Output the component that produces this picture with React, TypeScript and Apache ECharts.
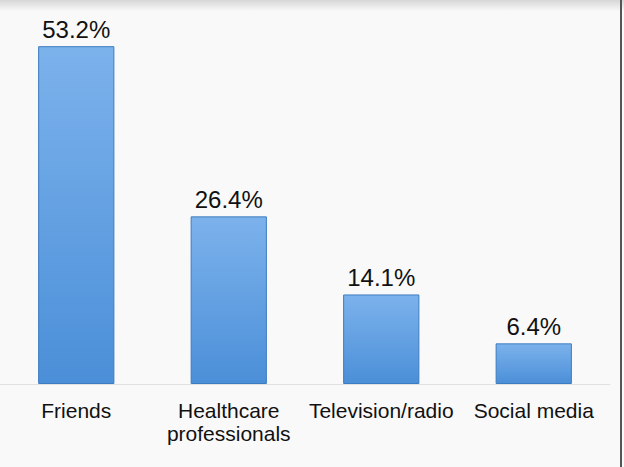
import React, { useEffect, useRef } from "react";
import * as echarts from "echarts";

const categories = ["Friends", "Healthcare\nprofessionals", "Television/radio", "Social media"];
const values = [53.2, 26.4, 14.1, 6.4];

export default function App() {
  const ref = useRef<HTMLDivElement>(null);
  useEffect(() => {
    if (!ref.current) return;
    const chart = echarts.init(ref.current, undefined, { renderer: "svg" });
    chart.setOption({
      animation: false,
      backgroundColor: "#f9f9f9",
      grid: { left: -1, right: 14, top: 3, bottom: 83, containLabel: false },
      xAxis: {
        type: "category",
        data: categories,
        axisLine: { show: true, lineStyle: { color: "#e2e2e2", width: 1 } },
        axisTick: { show: false },
        axisLabel: {
          color: "#111",
          fontFamily: "Liberation Sans, Arial, sans-serif",
          fontSize: 21,
          lineHeight: 23,
          margin: 15,
          interval: 0,
        },
      },
      yAxis: {
        type: "value",
        min: 0,
        max: 60,
        show: false,
        splitLine: { show: false },
      },
      series: [
        {
          type: "bar",
          data: values,
          barWidth: "50%",
          itemStyle: {
            color: new echarts.graphic.LinearGradient(0, 0, 0, 1, [
              { offset: 0, color: "#7cb2ec" },
              { offset: 1, color: "#4b8fd8" },
            ]),
            borderColor: "#3d7cc0",
            borderWidth: 1,
          },
          label: {
            show: true,
            position: "top",
            distance: 5,
            formatter: (p: any) => p.value.toFixed(1) + "%",
            color: "#111",
            fontFamily: "Liberation Sans, Arial, sans-serif",
            fontSize: 24,
          },
        },
      ],
      graphic: [
        {
          type: "rect",
          left: 0,
          top: 0,
          shape: { width: 624, height: 11 },
          style: {
            fill: new echarts.graphic.LinearGradient(0, 0, 0, 1, [
              { offset: 0, color: "#d6d6d6" },
              { offset: 1, color: "#f9f9f9" },
            ]),
          },
          z: -1,
        },
        {
          type: "rect",
          left: 620,
          top: 0,
          shape: { width: 2, height: 467 },
          style: { fill: "#555" },
        },
      ],
    });
    return () => chart.dispose();
  }, []);
  return (
    <div
      ref={ref}
      style={{ position: "fixed", left: 0, top: 0, width: 624, height: 467 }}
    />
  );
}
